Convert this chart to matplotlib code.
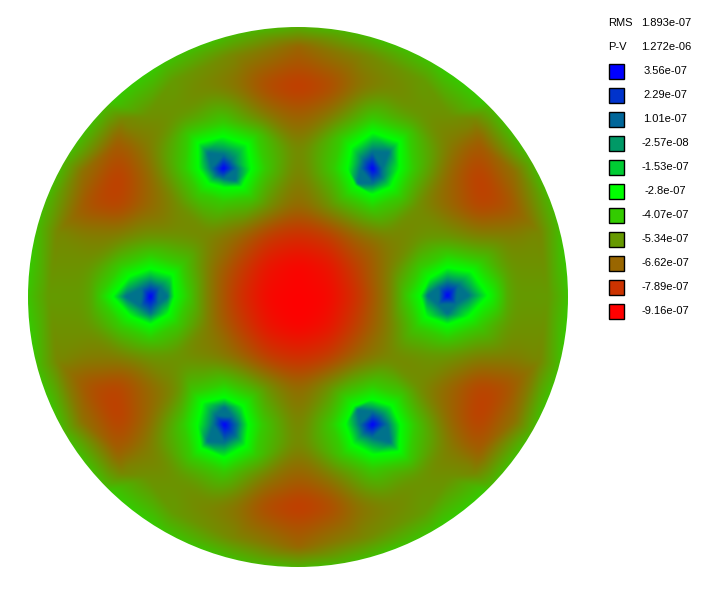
import numpy as np
import matplotlib
matplotlib.use('Agg')
import matplotlib.pyplot as plt
import matplotlib.tri as mtri
from matplotlib.colors import LinearSegmentedColormap, Normalize
from matplotlib.patches import Circle, Rectangle

# field, units of 1e-7, 30 px apart, rows from y=87 to y=507
grid_step = 30
grid = np.array([
    [-5.6,-5.4,-5.3,-5.4,-5.9,-6.4,-7.4,-7.8,-7.4,-6.4,-5.9,-5.4,-5.3,-5.4,-5.6],
    [-6.0,-5.8,-5.6,-5.5,-5.4,-5.4,-6.2,-6.8,-6.2,-5.4,-5.4,-5.5,-5.6,-5.8,-6.0],
    [-7.0,-7.1,-6.1,-5.8,-5.4,-5.4,-5.4,-5.9,-5.4,-5.4,-5.4,-5.8,-6.1,-7.1,-7.0],
    [-7.2,-7.7,-6.6,-5.4,-5.4,-5.4,-5.4,-6.1,-5.4,-5.4,-5.4,-5.4,-6.6,-7.7,-7.2],
    [-7.2,-7.5,-6.6,-5.7,-5.4,-5.4,-5.6,-6.6,-5.6,-5.4,-5.4,-5.7,-6.6,-7.5,-7.2],
    [-6.0,-6.0,-5.5,-5.6,-5.9,-6.6,-7.7,-8.1,-7.7,-6.6,-5.9,-5.6,-5.5,-6.0,-6.0],
    [-5.5,-5.4,-5.4,-5.4,-6.1,-7.5,-8.7,-9.1,-8.7,-7.5,-6.1,-5.4,-5.4,-5.4,-5.5],
    [-5.3,-5.4,-5.4,-5.4,-6.1,-7.9,-9.0,-9.16,-9.0,-7.9,-6.1,-5.4,-5.4,-5.4,-5.3],
    [-5.5,-5.4,-5.4,-5.4,-6.1,-7.5,-8.7,-9.1,-8.7,-7.5,-6.1,-5.4,-5.4,-5.4,-5.5],
    [-6.0,-6.0,-5.5,-5.6,-5.9,-6.6,-7.7,-8.1,-7.7,-6.6,-5.9,-5.6,-5.5,-6.0,-6.0],
    [-7.2,-7.5,-6.6,-5.7,-5.4,-5.4,-5.6,-6.6,-5.6,-5.4,-5.4,-5.7,-6.6,-7.5,-7.2],
    [-7.2,-7.7,-6.6,-5.4,-5.4,-5.4,-5.4,-6.1,-5.4,-5.4,-5.4,-5.4,-6.6,-7.7,-7.2],
    [-7.0,-7.1,-6.1,-5.8,-5.4,-5.4,-5.4,-5.9,-5.4,-5.4,-5.4,-5.8,-6.1,-7.1,-7.0],
    [-6.0,-5.8,-5.6,-5.5,-5.4,-5.4,-6.2,-6.8,-6.2,-5.4,-5.4,-5.5,-5.6,-5.8,-6.0],
    [-5.6,-5.4,-5.3,-5.4,-5.9,-6.4,-7.4,-7.8,-7.4,-6.4,-5.9,-5.4,-5.3,-5.4,-5.6],
])

# rim values at r=250 every 15 degrees, from 0 degrees counter clockwise
rim_angle = np.arange(0, 360, 15)
rim_inner = [-5.3,-5.8,-6.3,-5.8,-5.3,-5.8,-6.6,-5.8,-5.3,-5.8,-6.3,-5.8,
             -5.3,-5.8,-6.3,-5.8,-5.3,-5.8,-6.6,-5.8,-5.3,-5.8,-6.3,-5.8]
rim_outer = -3.7

# dips: centre pixel, radius of the bright green band and of the blue core,
# in directions E NE N NW W SW S SE
dip_x = [150, 447, 223, 372, 224, 372]
dip_y = [297, 296, 169, 169, 425, 425]
dip_band = [
    [24, 31, 28, 29, 38, 28, 28, 25],
    [41, 34, 28, 25, 27, 30, 29, 30],
    [28, 34, 32, 36, 25, 21, 19, 26],
    [27, 38, 36, 30, 25, 24, 26, 26],
    [24, 26, 27, 31, 27, 33, 33, 30],
    [28, 27, 25, 26, 27, 28, 30, 38],
]
dip_core = [
    [17, 13, 13, 12, 25, 14, 17, 11],
    [21, 15, 13, 12, 20, 13, 18, 12],
    [13, 11, 14, 22, 12, 10, 10, 17],
    [10, 23, 17, 13, 12, 21, 15, 13],
    [13, 11, 17, 13, 11, 24, 18, 16],
    [15, 12, 13, 21, 13, 13, 13, 25],
]
dir_x = np.array([1, 0.707, 0, -0.707, -1, -0.707, 0, 0.707])
dir_y = np.array([0, -0.707, -1, -0.707, 0, 0.707, 1, 0.707])

legend_values = [3.56e-07, 2.29e-07, 1.01e-07, -2.57e-08, -1.53e-07, -2.8e-07,
                 -4.07e-07, -5.34e-07, -6.62e-07, -7.89e-07, -9.16e-07]
legend_labels = ['3.56e-07', '2.29e-07', '1.01e-07', '-2.57e-08', '-1.53e-07', '-2.8e-07',
                 '-4.07e-07', '-5.34e-07', '-6.62e-07', '-7.89e-07', '-9.16e-07']
rms = '1.893e-07'
pv = '1.272e-06'

cx, cy, radius = 298, 297, 270

cmap = LinearSegmentedColormap.from_list('rgb', ['#ff0000', '#00ff00', '#0000ff'], N=1024)
norm = Normalize(-9.16, 3.56)


def blur(a, n):
    # box filter along both axes, edges padded
    k = np.ones(n) / n
    p = np.pad(a, n, mode='edge')
    p = np.apply_along_axis(lambda r: np.convolve(r, k, mode='same'), 0, p)
    p = np.apply_along_axis(lambda r: np.convolve(r, k, mode='same'), 1, p)
    return p[n:-n, n:-n]


plt.rcParams['font.family'] = ['Liberation Sans', 'DejaVu Sans']
fig = plt.figure(figsize=(7.09, 5.96), dpi=100)
ax = fig.add_axes([0, 0, 1, 1])

gx, gy = np.meshgrid(cx + grid_step * np.arange(-7, 8), cy + grid_step * np.arange(-7, 8))
nx, ny, nv = gx.ravel().astype(float), gy.ravel().astype(float), grid.ravel()
keep = np.hypot(nx - cx, ny - cy) < 238
for dx, dy in zip(dip_x, dip_y):
    keep &= np.hypot(nx - dx, ny - dy) > 56
nx, ny, nv = nx[keep], ny[keep], nv[keep]

a = np.radians(rim_angle)
nx = np.concatenate([nx, cx + 250 * np.cos(a), cx + 282 * np.cos(a)])
ny = np.concatenate([ny, cy - 250 * np.sin(a), cy - 282 * np.sin(a)])
nv = np.concatenate([nv, rim_inner, np.full(a.size, rim_outer)])

for dx, dy, band, core in zip(dip_x, dip_y, dip_band, dip_core):
    band = np.array(band)
    core = np.array(core)
    nx = np.concatenate([nx, [dx], dx + core * dir_x, dx + band * dir_x, dx + (band + 14) * dir_x])
    ny = np.concatenate([ny, [dy], dy + core * dir_y, dy + band * dir_y, dy + (band + 14) * dir_y])
    nv = np.concatenate([nv, [3.56], np.full(8, 0.7), np.full(8, -2.8), np.full(8, -4.1)])

tri = mtri.Triangulation(nx, ny)
interp = mtri.LinearTriInterpolator(tri, nv)
px, py = np.meshgrid(np.arange(cx - radius - 5, cx + radius + 6), np.arange(cy - radius - 5, cy + radius + 6))
raw = np.ma.filled(interp(px.astype(float), py.astype(float)), rim_outer)

# soften the mesh facets: strongly away from the dips, hardly near them
soft = blur(blur(raw, 17), 17)
near = np.full(raw.shape, 1e9)
for dx, dy in zip(dip_x, dip_y):
    near = np.minimum(near, np.hypot(px - dx, py - dy))
w = np.clip((near - 35) / 30, 0, 1)
z = (1 - w) * blur(raw, 3) + w * soft
# the rim ramp stays sharp
rr = np.hypot(px - cx, py - cy)
w2 = np.clip((rr - 230) / 15, 0, 1)
z = (1 - w2) * z + w2 * blur(raw, 5)

im = ax.imshow(np.clip(z, -9.16, 3.56), cmap=cmap, norm=norm, interpolation='nearest',
               extent=(px.min() - 0.5, px.max() + 0.5, py.max() + 0.5, py.min() - 0.5))
im.set_clip_path(Circle((cx, cy), radius, transform=ax.transData))
ax.set_xlim(0, 709)
ax.set_ylim(596, 0)
ax.axis('off')

ax.text(608.5, 22.5, 'RMS', fontsize=8, va='center')
ax.text(666, 22.5, rms, fontsize=8, va='center', ha='center')
ax.text(608.5, 46.5, 'P-V', fontsize=8, va='center')
ax.text(666, 46.5, pv, fontsize=8, va='center', ha='center')
for i, (v, lab) in enumerate(zip(legend_values, legend_labels)):
    y = 64 + 24 * i
    ax.add_patch(Rectangle((609, y), 15, 15, facecolor=cmap(norm(v * 1e7)), edgecolor='black', lw=1))
    ax.text(665, y + 7, lab, fontsize=8, va='center', ha='center')

fig.savefig('out.png', dpi=100)
